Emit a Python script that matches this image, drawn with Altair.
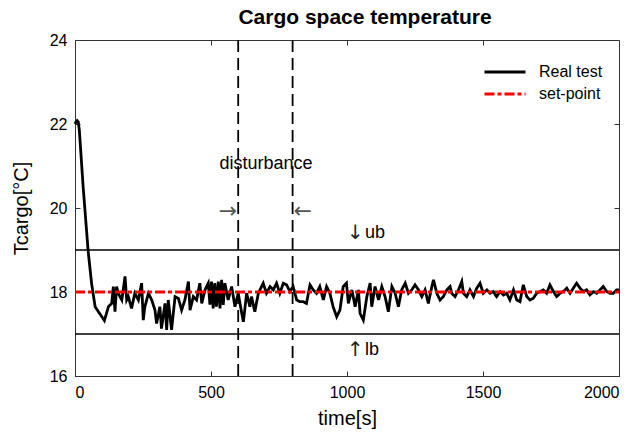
import altair as alt
import pandas as pd

FONT = "Liberation Sans"
ARROW_FONT = "DejaVu Sans"

time_s = [0, 4, 8, 12, 16, 30, 48, 61, 74, 86, 100, 108, 123, 135, 141, 147, 153, 159, 172, 184,
          190, 196, 208, 220, 233, 245, 251, 257, 270, 282, 294, 300, 312, 318, 331, 337, 343, 355, 368, 380,
          392, 404, 417, 423, 435, 447, 459, 466, 478, 490,
          496, 502, 508, 514, 520, 527, 533, 539, 545, 551, 563, 576, 588, 600, 612, 619, 631, 643, 649, 661,
          674, 686, 692, 704, 717, 729, 741, 753, 766, 778, 790, 802, 815, 827, 839, 851, 864, 876, 888, 900,
          913, 925, 937, 949, 962, 974, 986, 998,
          1005, 1018, 1030, 1042, 1048, 1060, 1073, 1085, 1091, 1103, 1116, 1128, 1140, 1152, 1165, 1177, 1189, 1201, 1214, 1226,
          1238, 1250, 1263, 1275, 1287, 1299, 1312, 1318, 1330, 1342, 1354, 1367, 1379, 1385, 1397, 1410, 1422, 1428, 1440, 1452,
          1465, 1477, 1489,
          1501, 1514, 1526, 1538, 1550, 1563, 1575, 1587, 1599, 1612, 1624, 1636, 1648, 1661, 1673, 1685, 1697, 1710, 1722, 1734,
          1746, 1759, 1771, 1783, 1795, 1808, 1820, 1832, 1844, 1857, 1869, 1881, 1893, 1906, 1918, 1930, 1942, 1955, 1967, 1979,
          1991, 2000]

temp_c = [22.0, 22.05, 22.08, 22.05, 21.85, 20.5, 19.0, 18.2, 17.65, 17.53, 17.4, 17.32, 17.65, 17.73, 18.13, 17.53, 18.13, 17.97, 17.81, 18.37,
          17.81, 17.89, 17.61, 17.97, 17.81, 18.21, 17.33, 17.65, 17.97, 17.81, 17.57, 17.25, 17.65, 17.13, 17.73, 17.10, 17.81, 17.10, 17.89, 17.85,
          17.57, 17.81, 18.25, 17.57, 17.89, 17.81, 18.21, 17.73, 18.05, 18.21,
          17.7, 18.25, 17.61, 18.21, 17.65, 18.25, 17.61, 18.29, 17.69, 18.21, 17.81, 18.13, 17.65, 17.97, 17.53, 17.29, 17.97, 17.65, 17.89, 17.53,
          17.97, 18.13, 18.21, 17.97, 18.13, 18.05, 18.21, 17.97, 18.21, 18.17, 18.01, 18.13, 17.81, 17.77, 17.77, 17.73, 18.17, 18.05, 17.97, 18.13,
          17.81, 18.13, 17.97, 17.65, 17.41, 17.57, 18.13, 18.21,
          17.73, 18.05, 17.65, 18.05, 17.49, 17.33, 17.89, 18.21, 17.65, 18.13, 17.81, 18.13, 17.89, 17.53, 18.13, 17.97, 17.65, 18.05, 18.21, 17.97,
          18.05, 18.17, 18.05, 17.89, 18.05, 17.73, 18.13, 18.29, 17.97, 17.81, 17.89, 18.05, 18.13, 17.97, 17.89, 18.05, 18.25, 17.97, 17.89, 18.05,
          17.89, 18.09, 18.21,
          17.97, 18.05, 17.97, 18.01, 17.89, 18.01, 17.93, 17.97, 17.81, 18.05, 17.81, 17.77, 18.17, 17.89, 17.81, 17.85, 17.97, 18.01, 18.05, 17.97,
          18.17, 18.01, 17.89, 17.97, 18.01, 18.09, 17.97, 18.09, 18.21, 18.09, 18.01, 18.05, 17.93, 18.01, 17.97, 18.05, 18.13, 18.01, 17.97, 17.97,
          18.05, 18.05]

series_names = ["Real test", "set-point"]
series_colors = ["#000000", "#ff0000"]
series_dashes = [[1, 0], [10, 3, 4, 3]]
setpoint_time = [0, 2000]
setpoint_temp = [18, 18]
disturbance_times = [600, 800]
bound_temps = [17, 19]
x_ticks = [0, 500, 1000, 1500, 2000]
x_top_ticks = [500, 1000, 1500]
y_ticks = [16, 18, 20, 22, 24]

# text annotations (data coordinates)
label_text = ["disturbance", "ub", "lb"]
label_t = [702, 1000, 1000]
label_v = [21.05, 19.40, 16.62]
label_align = ["center", "left", "left"]

arrow_text = ["→", "←", "↓", "↑"]
arrow_t = [600, 800, 1000, 1000]
arrow_v = [19.93, 19.93, 19.40, 16.62]

lines_df = pd.DataFrame({
    "t": time_s + setpoint_time,
    "v": temp_c + setpoint_temp,
    "s": ["Real test"] * len(time_s) + ["set-point"] * len(setpoint_time),
})

xs = alt.Scale(domain=[0, 2000], nice=False, zero=False)
ys = alt.Scale(domain=[16, 24], nice=False, zero=False)

leg = alt.Legend(
    title=None, orient="none", legendX=408, legendY=21,
    symbolType="stroke", symbolSize=1681, symbolStrokeWidth=2.8,
    labelFontSize=16, labelFont=FONT, labelOffset=12, clipHeight=22,
    rowPadding=0, padding=0, labelColor="#000",
)

line = alt.Chart(lines_df).mark_line(strokeWidth=2.8).encode(
    x=alt.X("t:Q", scale=xs, axis=alt.Axis(
        orient="bottom", values=x_ticks, format="d", title="time[s]",
        offset=-5, tickSize=5, domain=False, grid=False, labelPadding=8,
        labelFontSize=16, titleFontSize=20, titleFontWeight="normal", titlePadding=8,
        tickColor="#333", labelColor="#000", titleColor="#000")),
    y=alt.Y("v:Q", scale=ys, axis=alt.Axis(
        orient="left", values=y_ticks, format="d", title="Tcargo[°C]",
        offset=-5, tickSize=5, domain=False, grid=False, labelPadding=8,
        labelFontSize=16, titleFontSize=20, titleFontWeight="normal", titlePadding=18,
        tickColor="#333", labelColor="#000", titleColor="#000")),
    color=alt.Color("s:N", scale=alt.Scale(domain=series_names, range=series_colors), legend=leg),
    strokeDash=alt.StrokeDash("s:N", scale=alt.Scale(domain=series_names, range=series_dashes), legend=leg),
)

vrules = alt.Chart(pd.DataFrame({"t": disturbance_times})).mark_rule(
    strokeDash=[12, 6], strokeWidth=1.8, color="black").encode(
    x=alt.X("t:Q", scale=xs, axis=alt.Axis(
        orient="top", values=x_top_ticks, labels=False, title=None,
        offset=-5, tickSize=5, domain=False, grid=False, tickColor="#333")),
)

hrules = alt.Chart(pd.DataFrame({"v": bound_temps})).mark_rule(
    strokeWidth=1.5, color="black").encode(
    y=alt.Y("v:Q", scale=ys, axis=alt.Axis(
        orient="right", values=y_ticks, labels=False, title=None,
        offset=-5, tickSize=5, domain=False, grid=False, tickColor="#333")),
)

lab_df = pd.DataFrame({"t": label_t, "v": label_v, "txt": label_text, "al": label_align})
lab_center = alt.Chart(lab_df[lab_df["al"] == "center"]).mark_text(
    font=FONT, fontSize=18, color="#000", align="center", baseline="middle").encode(
    x=alt.X("t:Q", scale=xs, axis=None), y=alt.Y("v:Q", scale=ys, axis=None), text="txt:N")
lab_left = alt.Chart(lab_df[lab_df["al"] == "left"]).mark_text(
    font=FONT, fontSize=18, color="#000", align="left", baseline="middle", dx=18).encode(
    x=alt.X("t:Q", scale=xs, axis=None), y=alt.Y("v:Q", scale=ys, axis=None), text="txt:N")

arr_df = pd.DataFrame({"t": arrow_t, "v": arrow_v, "txt": arrow_text})
arr_r = alt.Chart(arr_df[arr_df["txt"] == "→"]).mark_text(
    font=ARROW_FONT, fontSize=22, color="#555", align="right", baseline="middle", dx=-1).encode(
    x=alt.X("t:Q", scale=xs, axis=None), y=alt.Y("v:Q", scale=ys, axis=None), text="txt:N")
arr_l = alt.Chart(arr_df[arr_df["txt"] == "←"]).mark_text(
    font=ARROW_FONT, fontSize=22, color="#555", align="left", baseline="middle", dx=1).encode(
    x=alt.X("t:Q", scale=xs, axis=None), y=alt.Y("v:Q", scale=ys, axis=None), text="txt:N")
arr_v = alt.Chart(arr_df[arr_df["txt"].isin(["↓", "↑"])]).mark_text(
    font=ARROW_FONT, fontSize=20, color="#222", align="left", baseline="middle").encode(
    x=alt.X("t:Q", scale=xs, axis=None), y=alt.Y("v:Q", scale=ys, axis=None), text="txt:N")

chart = alt.layer(hrules, vrules, line, lab_center, lab_left, arr_r, arr_l, arr_v).resolve_axis(
    x="independent", y="independent"
).properties(
    width=544, height=336,
    autosize=alt.AutoSizeParams(type="none"),
    padding={"left": 75, "top": 40, "right": 23, "bottom": 56},
    title=alt.TitleParams("Cargo space temperature", fontSize=21, fontWeight="bold",
                          offset=4, dx=18, anchor="middle", font=FONT, color="#000"),
).configure(font=FONT, background="white").configure_view(
    stroke="#333", strokeWidth=1
).configure_axis(labelFont=FONT, titleFont=FONT)

chart.save("out.html", embed_options={"renderer": "svg", "actions": False})
